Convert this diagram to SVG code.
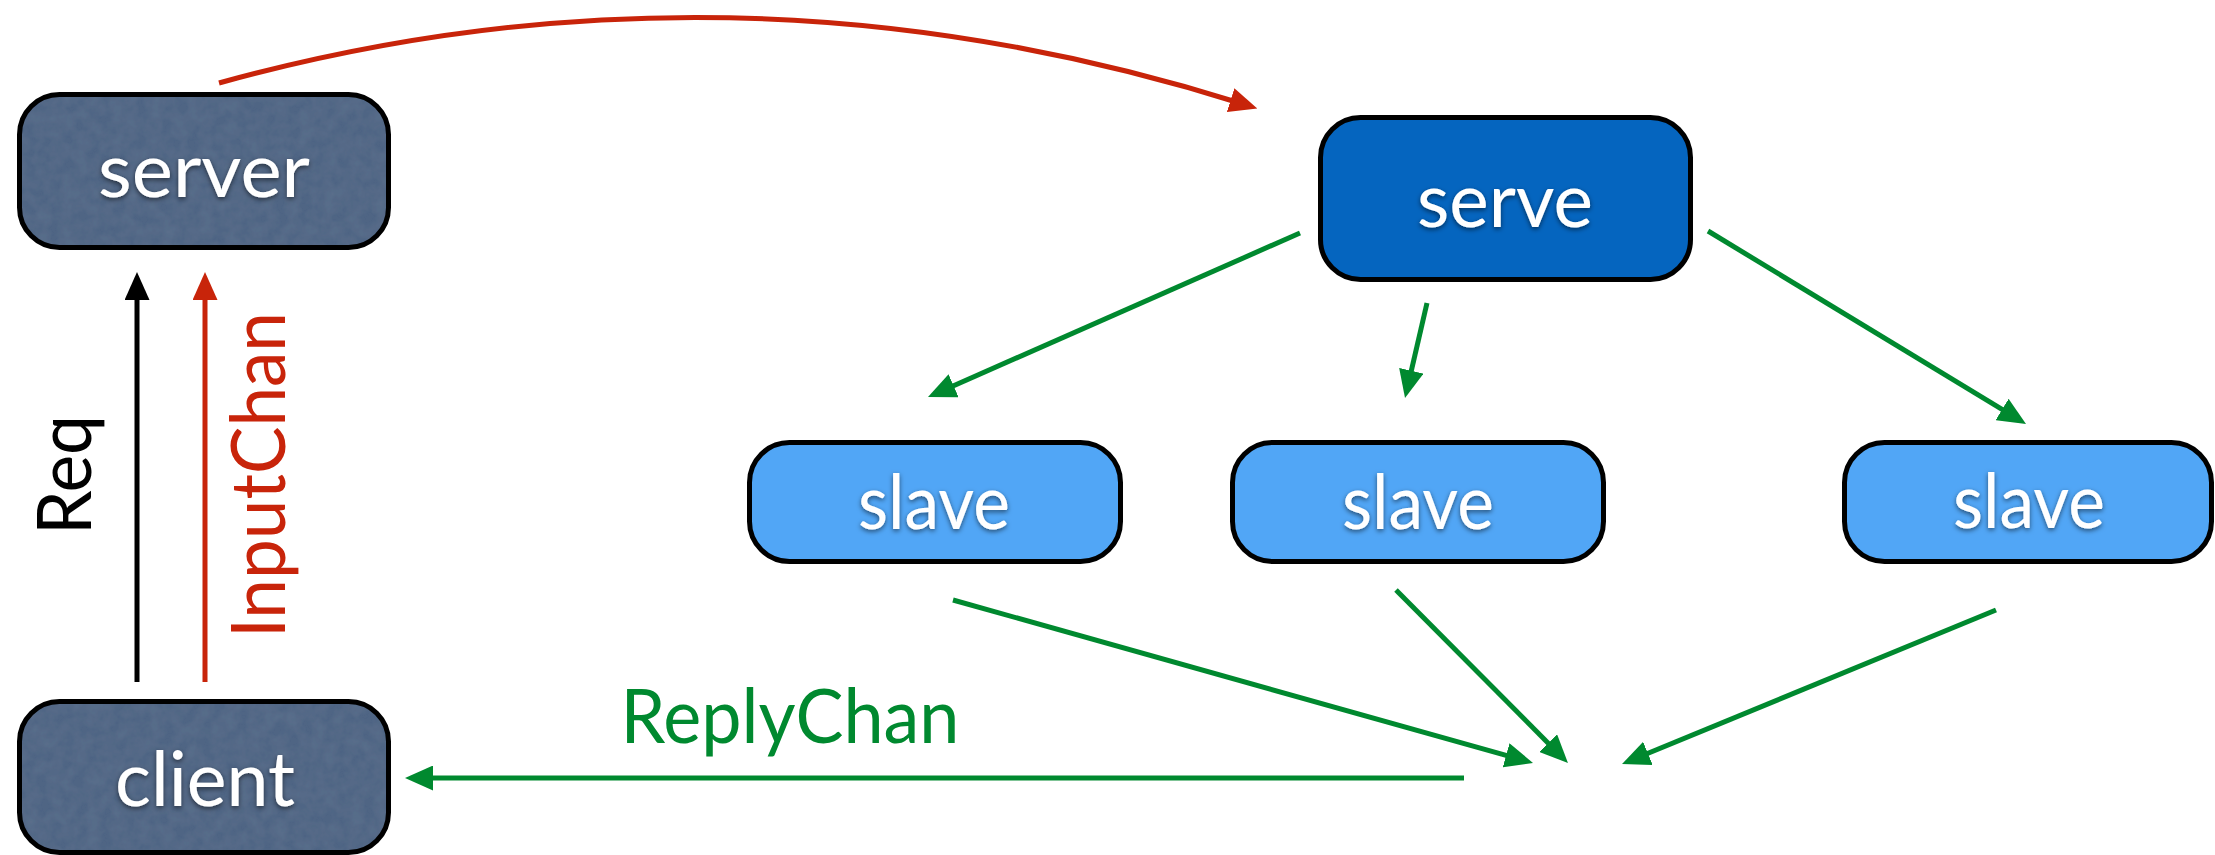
<svg xmlns="http://www.w3.org/2000/svg" width="2215" height="855" viewBox="0 0 2215 855">
<defs>
<style>
.box{stroke:#000;stroke-width:5}
.edgeonly{fill:none;stroke:#000;stroke-width:5}
.slate{fill:#4f6584}
.blue{fill:#0565bf}
.light{fill:#51a6f6}
.lbl{font-family:Lato,"Open Sans","Liberation Sans",sans-serif;font-size:75px;fill:#fff;text-anchor:middle}
.edge{font-family:Lato,"Open Sans","Liberation Sans",sans-serif;font-size:75px;text-anchor:middle}
.g{fill:none;stroke:#00892f;stroke-width:5}
.r{fill:none;stroke:#c8240a;stroke-width:5}
.k{fill:none;stroke:#000;stroke-width:5}
</style>
<filter id="sh" x="-10%" y="-20%" width="120%" height="150%">
<feDropShadow dx="0" dy="2" stdDeviation="2.5" flood-color="#000" flood-opacity="0.55"/>
</filter>
<filter id="tex" x="0" y="0" width="100%" height="100%">
<feTurbulence type="fractalNoise" baseFrequency="0.08" numOctaves="3" seed="4" result="n"/>
<feColorMatrix in="n" type="matrix" values="0 0 0 0 0.4  0 0 0 0 0.5  0 0 0 0 0.6  0 0 0 0.12 -0.03" result="na"/>
<feComposite in="na" in2="SourceGraphic" operator="in" result="nc"/>
<feMerge><feMergeNode in="SourceGraphic"/><feMergeNode in="nc"/></feMerge>
</filter>
<marker id="ag" viewBox="0 0 28 25" refX="13" refY="12.5" markerWidth="28" markerHeight="25" markerUnits="userSpaceOnUse" orient="auto"><path d="M0,0 L28,12.5 L0,25 z" fill="#00892f"/></marker>
<marker id="ar" viewBox="0 0 28 25" refX="13" refY="12.5" markerWidth="28" markerHeight="25" markerUnits="userSpaceOnUse" orient="auto"><path d="M0,0 L28,12.5 L0,25 z" fill="#c8240a"/></marker>
<marker id="ak" viewBox="0 0 28 25" refX="13" refY="12.5" markerWidth="28" markerHeight="25" markerUnits="userSpaceOnUse" orient="auto"><path d="M0,0 L28,12.5 L0,25 z" fill="#000"/></marker>
</defs>
<rect width="2215" height="855" fill="#fff"/>
<g id="connectors">
<path class="r" d="M219,83 Q730,-58 1243,104" marker-end="url(#ar)"/>
<path class="k" d="M137,682 L137,287" marker-end="url(#ak)"/>
<path class="r" d="M205,682 L205,287" marker-end="url(#ar)"/>
<path class="g" d="M1300,233 L941.7,391" marker-end="url(#ag)"/>
<path class="g" d="M1427,303 L1408.4,383.4" marker-end="url(#ag)"/>
<path class="g" d="M1708,231 L2013.2,416.2" marker-end="url(#ag)"/>
<path class="g" d="M953,600 L1518.6,758.9" marker-end="url(#ag)"/>
<path class="g" d="M1396,590 L1557.4,752.4" marker-end="url(#ag)"/>
<path class="g" d="M1996,610 L1635.9,758.3" marker-end="url(#ag)"/>
<path class="g" d="M1464,778 L420,778" marker-end="url(#ag)"/>
<text class="edge" fill="#000" transform="translate(91,475) rotate(-90)" textLength="120" lengthAdjust="spacingAndGlyphs">Req</text>
<text class="edge" fill="#c8240a" transform="translate(285,475) rotate(-90)" textLength="326" lengthAdjust="spacingAndGlyphs">InputChan</text>
<text class="edge" fill="#00892f" x="790" y="743" textLength="339" lengthAdjust="spacingAndGlyphs">ReplyChan</text>
</g>
<g id="server">
<rect class="slate" x="19.5" y="94.5" width="369" height="153" rx="40" filter="url(#tex)"/>
<rect class="edgeonly" x="19.5" y="94.5" width="369" height="153" rx="40"/>
<text class="lbl" x="204" y="197" filter="url(#sh)" textLength="212" lengthAdjust="spacingAndGlyphs">server</text>
</g>
<g id="client">
<rect class="slate" x="19.5" y="701.5" width="369" height="151" rx="40" filter="url(#tex)"/>
<rect class="edgeonly" x="19.5" y="701.5" width="369" height="151" rx="40"/>
<text class="lbl" x="205" y="806" filter="url(#sh)" textLength="180" lengthAdjust="spacingAndGlyphs">client</text>
</g>
<g id="serve">
<rect class="box blue" x="1320.5" y="117.5" width="370" height="162" rx="40"/>
<text class="lbl" x="1505" y="227" filter="url(#sh)" textLength="176" lengthAdjust="spacingAndGlyphs">serve</text>
</g>
<g id="slave1">
<rect class="box light" x="749.5" y="442.5" width="371" height="119" rx="40"/>
<text class="lbl" x="934" y="529" filter="url(#sh)" textLength="152" lengthAdjust="spacingAndGlyphs">slave</text>
</g>
<g id="slave2">
<rect class="box light" x="1232.5" y="442.5" width="371" height="119" rx="40"/>
<text class="lbl" x="1418" y="529" filter="url(#sh)" textLength="152" lengthAdjust="spacingAndGlyphs">slave</text>
</g>
<g id="slave3">
<rect class="box light" x="1844.5" y="442.5" width="367" height="119" rx="40"/>
<text class="lbl" x="2029" y="528" filter="url(#sh)" textLength="152" lengthAdjust="spacingAndGlyphs">slave</text>
</g>
</svg>
